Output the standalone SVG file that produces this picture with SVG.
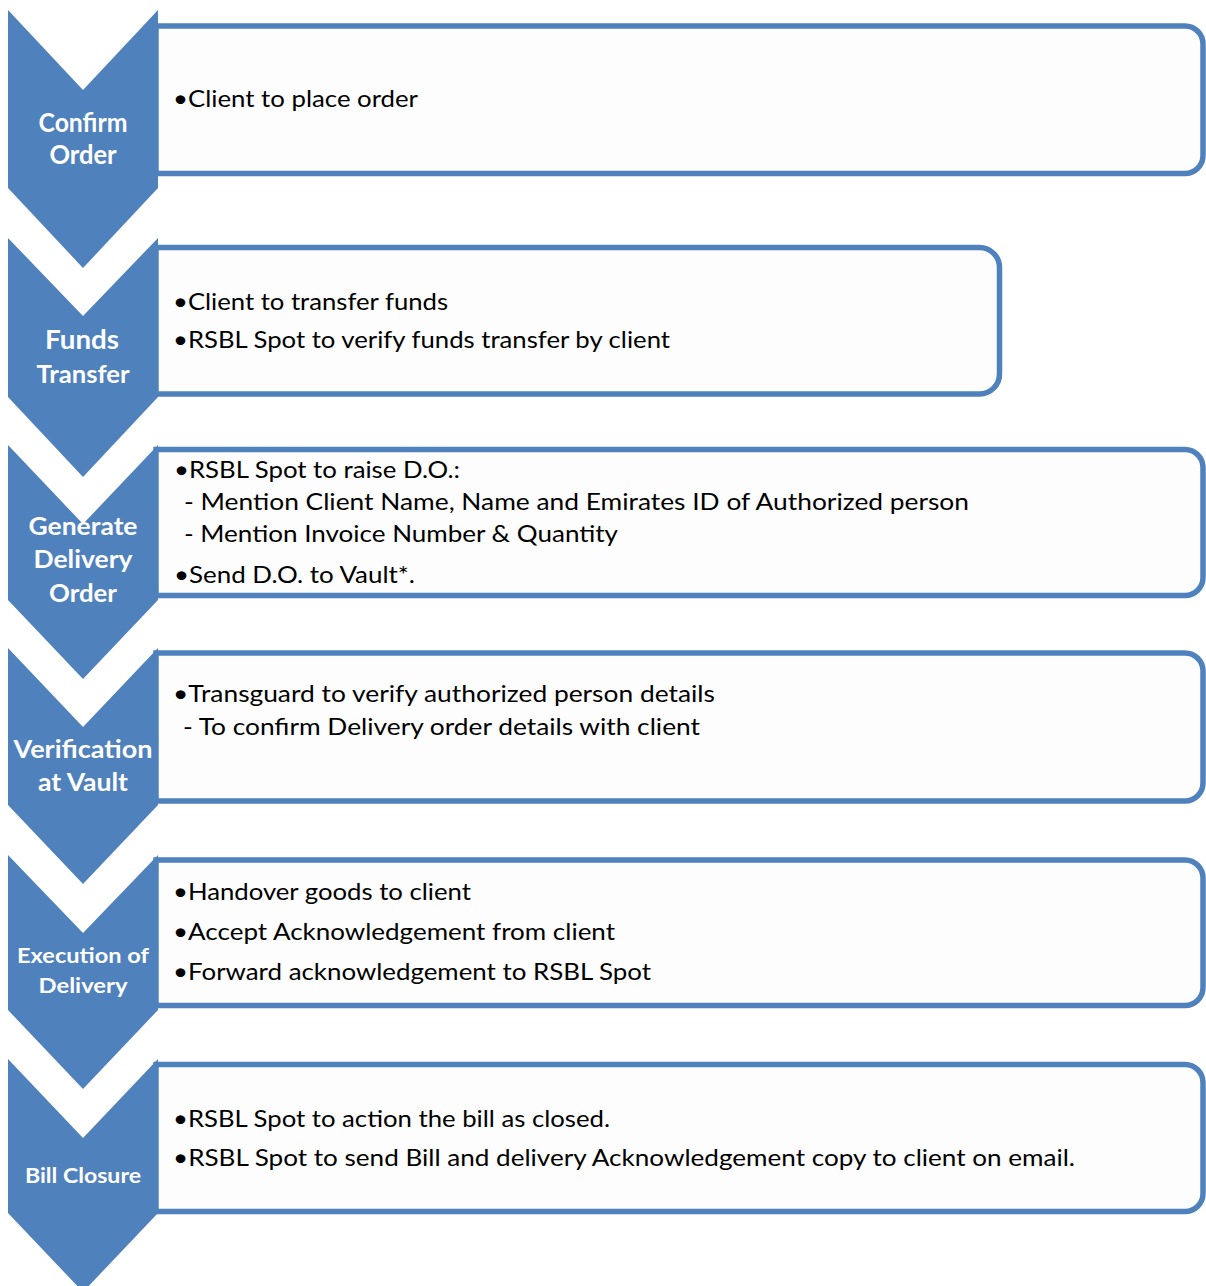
<svg xmlns="http://www.w3.org/2000/svg" width="1206" height="1286" viewBox="0 0 1206 1286">
<style>
.box{fill:#FDFDFD;stroke:#4F81BD;stroke-width:5.5}
.chev{fill:#4F81BD}
.lbl{font-family:Lato,"Liberation Sans",sans-serif;font-weight:bold;fill:#FFFFFF;text-anchor:middle}
.txt{font-family:Lato,"Liberation Sans",sans-serif;font-size:23px;fill:#000000}
</style>
<rect width="1206" height="1286" fill="#FFFFFF"/>
<g id="step1">
<path class="box" d="M156,26 H1185 A18,18 0 0 1 1203,44 V155.5 A18,18 0 0 1 1185,173.5 H156 Z"/>
<polygon class="chev" points="8,10 83,90 158,10 158,188 83,268 8,188"/>
<text class="lbl" x="83" y="132" font-size="26" textLength="89" lengthAdjust="spacingAndGlyphs">Confirm</text>
<text class="lbl" x="83" y="164" font-size="26" textLength="67" lengthAdjust="spacingAndGlyphs">Order</text>
<text class="txt" x="173" y="107" textLength="245" lengthAdjust="spacingAndGlyphs">•Client to place order</text>
</g>
<g id="step2">
<path class="box" d="M156,247.5 H979.5 A20,20 0 0 1 999.5,267.5 V374 A20,20 0 0 1 979.5,394 H156 Z"/>
<polygon class="chev" points="8,238 83,316 158,238 158,397 83,477 8,397"/>
<text class="lbl" x="82" y="349" font-size="26" textLength="74" lengthAdjust="spacingAndGlyphs">Funds</text>
<text class="lbl" x="83" y="383" font-size="24" textLength="93" lengthAdjust="spacingAndGlyphs">Transfer</text>
<text class="txt" x="173" y="310" textLength="275" lengthAdjust="spacingAndGlyphs">•Client to transfer funds</text>
<text class="txt" x="173" y="348" textLength="497" lengthAdjust="spacingAndGlyphs">•RSBL Spot to verify funds transfer by client</text>
</g>
<g id="step3">
<path class="box" d="M156,449.5 H1185 A18,18 0 0 1 1203,467.5 V577.5 A18,18 0 0 1 1185,595.5 H156 Z"/>
<polygon class="chev" points="8,445 83,524 158,445 158,600 83,679 8,600"/>
<text class="lbl" x="83" y="535" font-size="24" textLength="109" lengthAdjust="spacingAndGlyphs">Generate</text>
<text class="lbl" x="83" y="568" font-size="24" textLength="99" lengthAdjust="spacingAndGlyphs">Delivery</text>
<text class="lbl" x="83" y="602" font-size="24" textLength="68" lengthAdjust="spacingAndGlyphs">Order</text>
<text class="txt" x="174" y="478" textLength="286" lengthAdjust="spacingAndGlyphs">•RSBL  Spot to raise D.O.:</text>
<text class="txt" x="184" y="510" textLength="785" lengthAdjust="spacingAndGlyphs">- Mention Client  Name, Name and Emirates ID of  Authorized person</text>
<text class="txt" x="184" y="542" textLength="434" lengthAdjust="spacingAndGlyphs">- Mention Invoice Number &amp; Quantity</text>
<text class="txt" x="174" y="583" textLength="241" lengthAdjust="spacingAndGlyphs">•Send D.O. to Vault*.</text>
</g>
<g id="step4">
<path class="box" d="M156,653 H1185 A18,18 0 0 1 1203,671 V783 A18,18 0 0 1 1185,801 H156 Z"/>
<polygon class="chev" points="8,648 83,727 158,648 158,805 83,884 8,805"/>
<text class="lbl" x="83" y="758" font-size="25" textLength="139" lengthAdjust="spacingAndGlyphs">Verification</text>
<text class="lbl" x="83" y="791" font-size="25" textLength="90" lengthAdjust="spacingAndGlyphs">at Vault</text>
<text class="txt" x="173" y="702" textLength="542" lengthAdjust="spacingAndGlyphs">•Transguard to verify authorized person details</text>
<text class="txt" x="183" y="735" textLength="517" lengthAdjust="spacingAndGlyphs">- To confirm Delivery order details with client</text>
</g>
<g id="step5">
<path class="box" d="M156,860 H1185 A18,18 0 0 1 1203,878 V987.5 A18,18 0 0 1 1185,1005.5 H156 Z"/>
<polygon class="chev" points="8,855 83,933 158,855 158,1010 83,1089 8,1010"/>
<text class="lbl" x="83" y="963" font-size="21" textLength="132" lengthAdjust="spacingAndGlyphs">Execution of</text>
<text class="lbl" x="83" y="993" font-size="21" textLength="89" lengthAdjust="spacingAndGlyphs">Delivery</text>
<text class="txt" x="173" y="900" textLength="298" lengthAdjust="spacingAndGlyphs">•Handover goods to client</text>
<text class="txt" x="173" y="940" textLength="442" lengthAdjust="spacingAndGlyphs">•Accept Acknowledgement  from client</text>
<text class="txt" x="173" y="980" textLength="478" lengthAdjust="spacingAndGlyphs">•Forward acknowledgement to RSBL Spot</text>
</g>
<g id="step6">
<path class="box" d="M156,1064.5 H1185 A18,18 0 0 1 1203,1082.5 V1193.5 A18,18 0 0 1 1185,1211.5 H156 Z"/>
<polygon class="chev" points="8,1059 83,1138 158,1059 158,1213 83,1292 8,1213"/>
<text class="lbl" x="83" y="1183" font-size="21" textLength="116" lengthAdjust="spacingAndGlyphs">Bill Closure</text>
<text class="txt" x="173" y="1127" textLength="437" lengthAdjust="spacingAndGlyphs">•RSBL Spot to action the bill as closed.</text>
<text class="txt" x="173" y="1166" textLength="902" lengthAdjust="spacingAndGlyphs">•RSBL Spot to send Bill and delivery Acknowledgement  copy to client on email.</text>
</g>
</svg>
